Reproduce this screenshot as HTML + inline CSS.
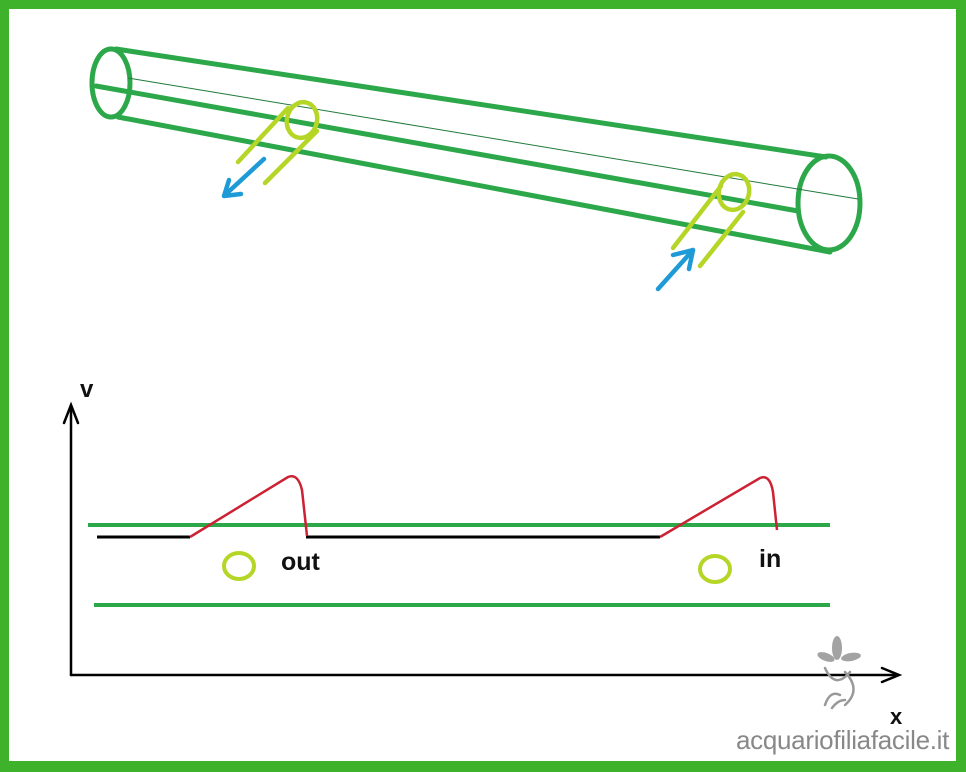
<!DOCTYPE html>
<html><head><meta charset="utf-8"><style>
html,body{margin:0;padding:0;background:#fff}
svg{display:block}
text{font-family:"Liberation Sans",Arial,sans-serif}
</style></head><body>
<svg width="966" height="772" viewBox="0 0 966 772" xmlns="http://www.w3.org/2000/svg">
<rect x="0" y="0" width="966" height="772" fill="#3db22a"/>
<rect x="9" y="9" width="947" height="752" fill="#fff"/>
<g fill="none" stroke="#2ca84a" stroke-width="5" stroke-linecap="round">
<ellipse cx="111" cy="83" rx="19" ry="34"/>
<line x1="116" y1="49" x2="826" y2="157"/>
<line x1="118" y1="117" x2="830" y2="252"/>
<line x1="96" y1="86" x2="798" y2="211"/>
<ellipse cx="829" cy="203" rx="31" ry="47"/>
</g>
<line x1="128" y1="78" x2="858" y2="199" stroke="#1f7a3a" stroke-width="1"/>
<g fill="none" stroke="#b5d626" stroke-width="4.5" stroke-linecap="round">
<ellipse cx="302" cy="120" rx="15" ry="18" transform="rotate(15 302 120)"/>
<line x1="288" y1="108" x2="238" y2="162"/>
<line x1="317" y1="131" x2="265" y2="183"/>
<ellipse cx="734" cy="192" rx="15" ry="18" transform="rotate(15 734 192)"/>
<line x1="721" y1="186" x2="673" y2="248"/>
<line x1="743" y1="212" x2="700" y2="266"/>
</g>
<g fill="none" stroke="#1e9ad6" stroke-width="4.5" stroke-linecap="round" stroke-linejoin="round">
<line x1="264" y1="159" x2="225" y2="195"/>
<polyline points="229,180 224,196 241,194"/>
<line x1="658" y1="289" x2="693" y2="250"/>
<polyline points="673,255 693,250 689,269"/>
</g>
<g fill="none" stroke="#000" stroke-width="2.5" stroke-linecap="round">
<line x1="71" y1="675" x2="71" y2="406"/>
<polyline points="64,423 71,405 78,423"/>
<line x1="71" y1="675" x2="898" y2="675"/>
<polyline points="882,668 899,675 882,682"/>
</g>
<g stroke="#2ca84a" stroke-width="4">
<line x1="88" y1="525" x2="830" y2="525"/>
<line x1="94" y1="605" x2="830" y2="605"/>
</g>
<g stroke="#000" stroke-width="3">
<line x1="97" y1="537" x2="190" y2="537"/>
<line x1="306" y1="537" x2="660" y2="537"/>
</g>
<g fill="none" stroke="#cc2233" stroke-width="2.5">
<path d="M190,537 L288,477 Q298,473 302,490 L307,536"/>
<path d="M660,537 L760,478 Q770,474 773,492 L777,530"/>
</g>
<g fill="none" stroke="#b5d626" stroke-width="4">
<ellipse cx="239" cy="566" rx="15" ry="13"/>
<ellipse cx="715" cy="569" rx="15" ry="13"/>
</g>
<g font-weight="bold" fill="#111">
<text x="281" y="570" font-size="25">out</text>
<text x="759" y="567" font-size="25">in</text>
<text x="80" y="397" font-size="24">v</text>
<text x="890" y="724" font-size="22">x</text>
</g>
<g fill="#9a9a9a" opacity="0.9">
<ellipse cx="837" cy="648" rx="5" ry="12"/>
<ellipse cx="826" cy="657" rx="9" ry="4" transform="rotate(20 826 657)"/>
<ellipse cx="851" cy="657" rx="10" ry="4" transform="rotate(-10 851 657)"/>
</g>
<g fill="none" stroke="#999" stroke-width="2.5" stroke-linecap="round">
<path d="M825,668 Q835,690 850,672"/>
<path d="M845,672 Q862,690 845,705"/>
<path d="M825,705 Q830,690 840,695"/>
<path d="M832,708 Q838,700 845,700"/>
</g>
<text x="736" y="749" font-size="26" fill="#888" letter-spacing="-0.3">acquariofiliafacile.it</text>
</svg>
</body></html>
